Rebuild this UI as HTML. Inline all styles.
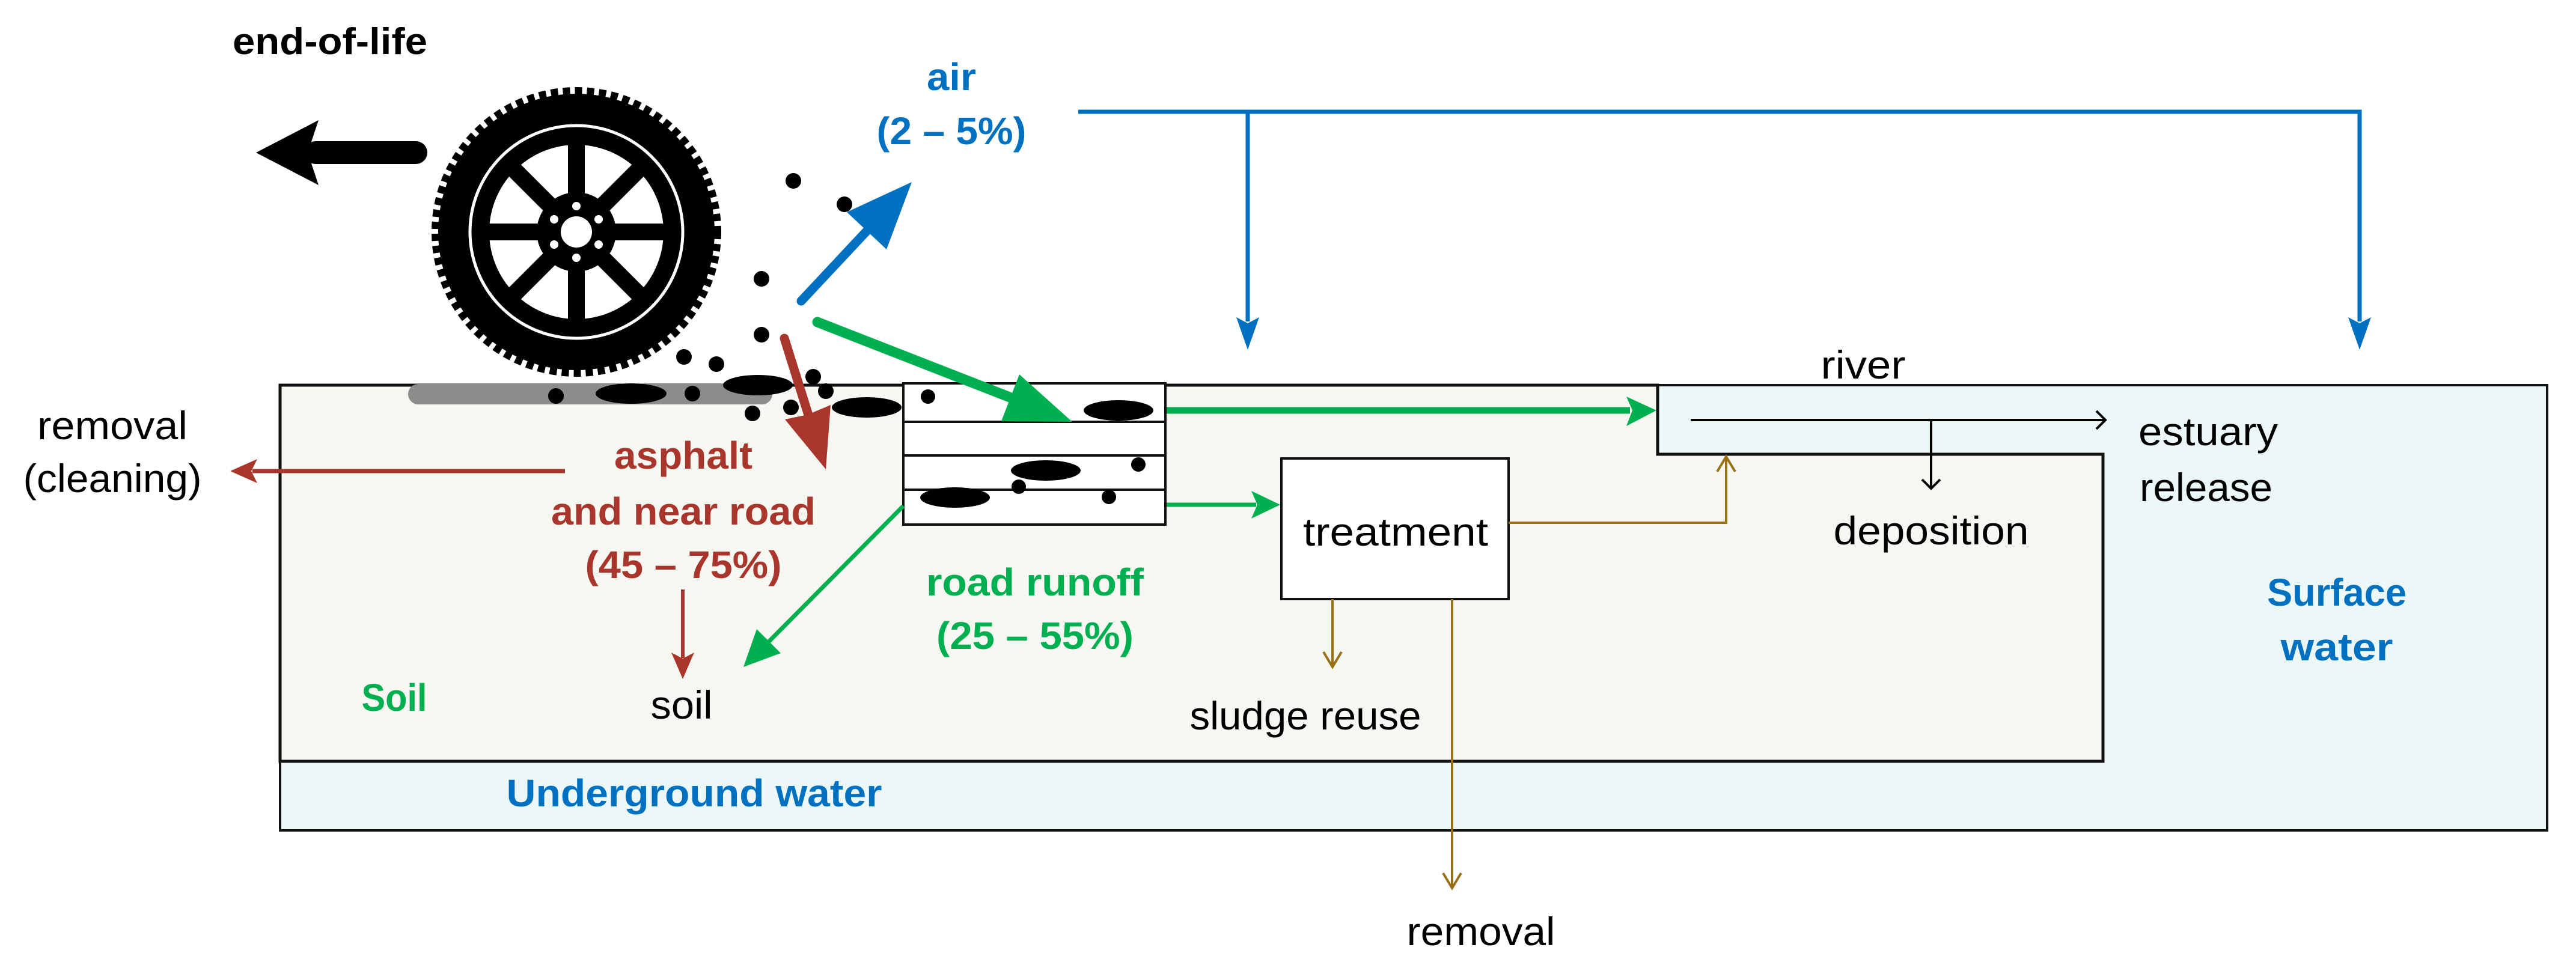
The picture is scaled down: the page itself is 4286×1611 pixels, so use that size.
<!DOCTYPE html>
<html><head><meta charset="utf-8"><style>
html,body{margin:0;padding:0;background:#fff;}
svg{display:block;}
text{font-family:"Liberation Sans",sans-serif;}
</style></head><body>
<svg width="4286" height="1611" viewBox="0 0 4286 1611" xmlns="http://www.w3.org/2000/svg">
<rect width="4286" height="1611" fill="#fff"/>
<rect x="466" y="641" width="3772" height="741" fill="#ecf7f7" stroke="#111" stroke-width="4"/>
<polygon points="466,641 2758,641 2758,756 3499,756 3499,1267 466,1267" fill="#f7f7f2" stroke="#111" stroke-width="5"/>
<line x1="466" y1="641" x2="2758" y2="641" stroke="#111" stroke-width="5"/>

<rect x="679" y="639" width="606" height="34" rx="17" fill="#8c8c8c"/>

<g>
<circle cx="959" cy="386" r="230" fill="#000"/>
<circle cx="959" cy="386" r="234" fill="none" stroke="#000" stroke-width="14" stroke-dasharray="12 8"/>
<circle cx="959" cy="386" r="177" fill="none" stroke="#fff" stroke-width="5"/>
<circle cx="959" cy="386" r="146" fill="#fff"/>
<g stroke="#000" stroke-width="28">
<line x1="813" y1="386" x2="1105" y2="386"/>
<line x1="959" y1="240" x2="959" y2="532"/>
<line x1="856" y1="283" x2="1062" y2="489"/>
<line x1="1062" y1="283" x2="856" y2="489"/>
</g>
<circle cx="959" cy="386" r="150" fill="none" stroke="#000" stroke-width="10"/>
<circle cx="959" cy="386" r="66" fill="#000"/>
<circle cx="959" cy="386" r="26" fill="#fff"/>
<g fill="#fff">
<circle cx="959" cy="343" r="7"/><circle cx="959" cy="429" r="7"/>
<circle cx="922" cy="365" r="7"/><circle cx="996" cy="365" r="7"/>
<circle cx="922" cy="407" r="7"/><circle cx="996" cy="407" r="7"/>
</g>
</g>

<line x1="525" y1="254" x2="692" y2="254" stroke="#000" stroke-width="38" stroke-linecap="round"/>
<polygon points="426,254 530,200 512,254 530,308" fill="#000"/>
<text x="387" y="90" font-size="62" font-weight="bold" textLength="324" lengthAdjust="spacingAndGlyphs">end-of-life</text>

<g fill="#000">
<circle cx="1320" cy="301" r="13"/><circle cx="1405" cy="340" r="13"/>
<circle cx="1267" cy="464" r="13"/><circle cx="1267" cy="557" r="13"/>
<circle cx="1138" cy="594" r="13"/><circle cx="1192" cy="606" r="13"/>
<circle cx="1353" cy="627" r="13"/><circle cx="1374" cy="651" r="13"/>
<circle cx="1316" cy="678" r="13"/><circle cx="1252" cy="688" r="13"/>
<circle cx="925" cy="659" r="13"/><circle cx="1152" cy="655" r="13"/>
<ellipse cx="1050" cy="655" rx="59" ry="17"/>
<ellipse cx="1261" cy="641" rx="58" ry="17"/>
<ellipse cx="1442" cy="678" rx="58" ry="17"/>
</g>

<rect x="1503" y="638" width="436" height="235" fill="#fff" stroke="#111" stroke-width="4"/>
<g stroke="#111" stroke-width="4"><line x1="1503" y1="702" x2="1939" y2="702"/><line x1="1503" y1="758" x2="1939" y2="758"/><line x1="1503" y1="815" x2="1939" y2="815"/></g>
<g fill="#000">
<ellipse cx="1861" cy="683" rx="58" ry="17"/><ellipse cx="1740" cy="783" rx="58" ry="17"/><ellipse cx="1589" cy="828" rx="58" ry="17"/>
<circle cx="1544" cy="660" r="12"/><circle cx="1894" cy="773" r="12"/><circle cx="1695" cy="810" r="12"/><circle cx="1845" cy="827" r="12"/>
</g>

<g stroke="#0070c0" stroke-width="7" fill="none">
<polyline points="1794,186 3926,186 3926,535"/>
<line x1="2076" y1="186" x2="2076" y2="535"/>
<line x1="1333" y1="501" x2="1450" y2="376" stroke-width="15" stroke-linecap="round"/>
</g>
<g fill="#0070c0">
<polygon points="2076,582 2057,528 2076,538 2095,528"/>
<polygon points="3926,582 3907,528 3926,538 3945,528"/>
<polygon points="1517,303 1475,415 1442,384 1409,353"/>
</g>
<text x="1583" y="150" font-size="64" font-weight="bold" fill="#0070c0" text-anchor="middle" textLength="82" lengthAdjust="spacingAndGlyphs">air</text>
<text x="1583" y="240" font-size="64" font-weight="bold" fill="#0070c0" text-anchor="middle" textLength="249" lengthAdjust="spacingAndGlyphs">(2 – 5%)</text>

<line x1="1305" y1="563" x2="1348" y2="700" stroke="#a9362c" stroke-width="15" stroke-linecap="round"/>
<polygon points="1374,781 1382,674 1344,690 1306,698" fill="#a9362c"/>
<line x1="420" y1="784" x2="940" y2="784" stroke="#a9362c" stroke-width="7"/>
<polygon points="383,784 428,764 418,784 428,804" fill="#a9362c"/>
<line x1="1136" y1="981" x2="1136" y2="1095" stroke="#a9362c" stroke-width="6"/>
<polygon points="1136,1130 1117,1086 1136,1096 1155,1086" fill="#a9362c"/>
<g font-size="64" font-weight="bold" fill="#a9362c" text-anchor="middle">
<text x="1137" y="780" textLength="230" lengthAdjust="spacingAndGlyphs">asphalt</text>
<text x="1137" y="873" textLength="440" lengthAdjust="spacingAndGlyphs">and near road</text>
<text x="1137" y="962" textLength="327" lengthAdjust="spacingAndGlyphs">(45 – 75%)</text>
</g>

<g stroke="#00b050" fill="none">
<line x1="1360" y1="536" x2="1690" y2="665" stroke-width="17" stroke-linecap="round"/>
<line x1="1941" y1="683" x2="2712" y2="683" stroke-width="11"/>
<line x1="1941" y1="840" x2="2090" y2="840" stroke-width="7"/>
<line x1="1503" y1="842" x2="1275" y2="1072" stroke-width="7"/>
</g>
<g fill="#00b050">
<polygon points="1784,702 1666,701 1681,662 1696,623"/>
<polygon points="2756,683 2706,660 2716,683 2706,709"/>
<polygon points="2130,840 2082,817 2092,840 2082,863"/>
<polygon points="1237,1110 1299,1087 1279,1067 1259,1047"/>
</g>
<g font-size="64" font-weight="bold" fill="#00b050" text-anchor="middle">
<text x="1722" y="991" textLength="362" lengthAdjust="spacingAndGlyphs">road runoff</text>
<text x="1722" y="1080" textLength="328" lengthAdjust="spacingAndGlyphs">(25 – 55%)</text>
<text x="656" y="1183" textLength="109" lengthAdjust="spacingAndGlyphs">Soil</text>
</g>

<rect x="2132" y="763" width="378" height="234" fill="#fff" stroke="#111" stroke-width="4"/>
<text x="2168" y="908" font-size="66" textLength="308" lengthAdjust="spacingAndGlyphs">treatment</text>

<g stroke="#9a7014" stroke-width="4" fill="none">
<polyline points="2510,870 2872,870 2872,760"/>
<polyline points="2857,785 2872,760 2887,785"/>
<line x1="2217" y1="997" x2="2217" y2="1110"/>
<polyline points="2202,1085 2217,1110 2232,1085"/>
<line x1="2416" y1="997" x2="2416" y2="1478"/>
<polyline points="2401,1453 2416,1478 2431,1453"/>
</g>

<g stroke="#000" stroke-width="4" fill="none">
<line x1="2813" y1="699" x2="3503" y2="699"/>
<polyline points="3488,684 3503,699 3488,714"/>
<line x1="3213" y1="699" x2="3213" y2="813"/>
<polyline points="3198,798 3213,813 3228,798"/>
</g>

<g font-size="66" fill="#000">
<text x="187" y="731" text-anchor="middle" textLength="250" lengthAdjust="spacingAndGlyphs">removal</text>
<text x="187" y="819" text-anchor="middle" textLength="297" lengthAdjust="spacingAndGlyphs">(cleaning)</text>
<text x="1134" y="1196" text-anchor="middle" textLength="103" lengthAdjust="spacingAndGlyphs">soil</text>
<text x="2172" y="1214" text-anchor="middle" textLength="385" lengthAdjust="spacingAndGlyphs">sludge reuse</text>
<text x="2464" y="1573" text-anchor="middle" textLength="247" lengthAdjust="spacingAndGlyphs">removal</text>
<text x="3100" y="630" text-anchor="middle" textLength="141" lengthAdjust="spacingAndGlyphs">river</text>
<text x="3213" y="906" text-anchor="middle" textLength="325" lengthAdjust="spacingAndGlyphs">deposition</text>
<text x="3558" y="741" textLength="232" lengthAdjust="spacingAndGlyphs">estuary</text>
<text x="3560" y="834" textLength="221" lengthAdjust="spacingAndGlyphs">release</text>
</g>
<g font-size="64" font-weight="bold" fill="#0070c0" text-anchor="middle">
<text x="1155" y="1342" textLength="625" lengthAdjust="spacingAndGlyphs">Underground water</text>
<text x="3888" y="1008" textLength="232" lengthAdjust="spacingAndGlyphs">Surface</text>
<text x="3888" y="1099" textLength="187" lengthAdjust="spacingAndGlyphs">water</text>
</g>
</svg>
</body></html>
